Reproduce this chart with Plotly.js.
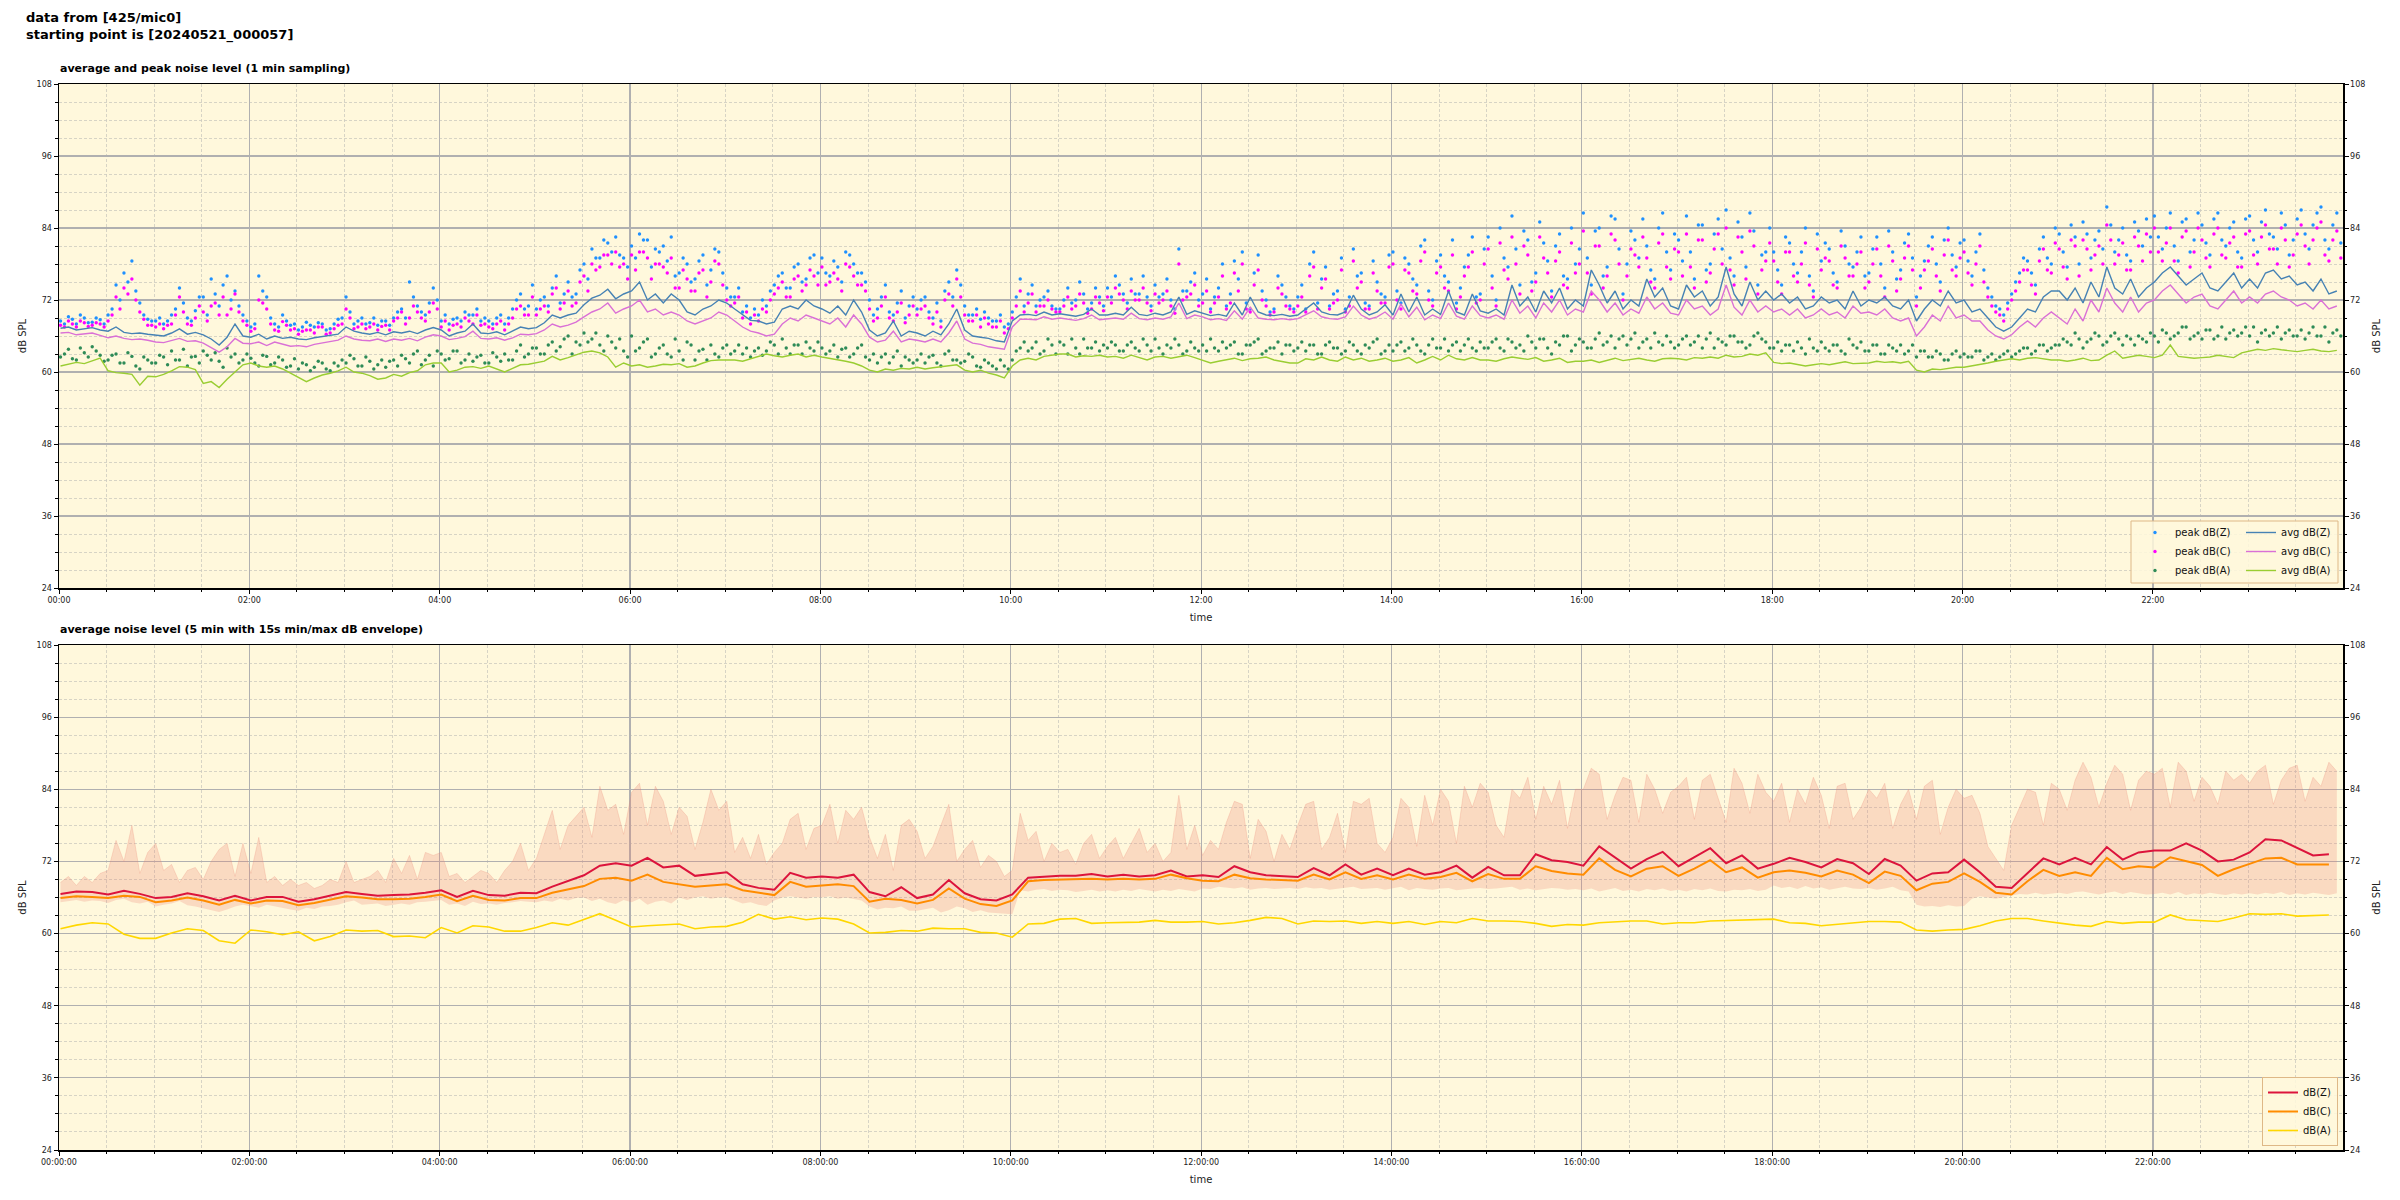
<!DOCTYPE html>
<html><head><meta charset="utf-8">
<script src="https://cdn.plot.ly/plotly-3.0.1.min.js"></script>
<style>html,body{margin:0;padding:0;background:#fff}#chart{width:2400px;height:1200px}</style>
</head><body><div id="chart"></div>
<script>
// ---------- DATA ----------
const startStamp = '2024-05-21 00:00:57';
const stepTop = 5;      // minutes between samples, panel 1 and envelope
const stepBottom = 10;  // minutes between samples, panel 2 lines
const peakOffset = 2.5; // minutes, second set of peak samples

const avgZ = [
67.3,67.5,67.0,67.2,67.4,67.0,66.8,67.5,66.6,66.4,66.5,66.3,
66.2,66.0,66.5,67.2,66.3,66.6,66.2,65.5,64.5,65.8,68.0,66.0,
65.8,66.3,65.5,66.0,65.6,65.8,65.5,65.4,65.7,65.9,66.0,66.3,
67.5,66.8,66.5,66.3,66.6,66.2,66.7,66.5,66.8,66.4,67.0,67.4,
67.0,66.0,66.5,66.8,68.0,66.5,66.4,66.7,66.2,66.8,67.5,67.2,
67.4,68.2,69.5,69.0,69.5,69.8,71.2,72.3,72.8,73.8,72.2,73.0,
73.5,75.0,72.0,73.0,71.5,73.0,72.0,70.0,69.5,70.5,71.0,72.0,
71.5,70.5,69.5,68.6,68.5,68.0,68.3,70.5,71.0,70.5,72.0,71.0,
70.5,69.8,71.0,69.5,72.0,70.0,67.0,66.0,66.5,68.5,66.0,66.8,
66.5,66.0,66.8,66.2,68.0,70.5,67.0,66.0,65.8,65.6,65.2,65.0,
68.5,69.5,69.6,69.4,70.0,69.5,69.7,69.5,69.3,69.6,70.5,69.5,
69.5,69.8,69.5,70.8,69.6,69.4,69.8,69.5,70.0,72.5,69.6,70.2,
69.8,69.4,69.6,69.3,71.5,69.5,72.5,70.0,69.5,69.4,69.6,69.3,
69.5,70.5,71.5,70.0,69.6,69.5,70.0,72.8,70.5,69.5,70.0,71.2,
69.5,73.0,70.0,72.5,69.5,70.5,69.6,73.5,70.0,69.5,73.0,70.2,
69.8,70.5,69.5,74.5,71.0,72.5,70.0,73.5,71.5,74.0,70.5,72.0,
71.0,77.0,74.5,71.5,73.5,70.5,72.0,71.0,75.5,72.5,74.0,71.0,
70.5,74.5,72.5,73.5,71.0,72.5,77.5,73.0,71.0,75.0,72.0,73.5,
72.0,73.0,71.5,72.5,70.5,71.0,72.5,71.5,72.0,70.5,73.5,71.0,
72.0,71.5,72.5,71.0,70.5,72.0,68.5,70.5,72.0,71.0,73.5,71.5,
72.0,70.0,70.5,69.0,67.5,66.8,67.5,69.0,70.5,70.0,72.5,73.5,
73.5,72.0,74.0,71.5,75.0,72.5,77.5,74.0,73.0,75.5,72.5,74.0,
75.0,76.5,77.5,76.0,74.5,75.5,76.5,74.0,73.5,75.0,76.5,74.0,
75.5,74.0,76.5,77.0,75.5,76.0,74.5,75.0,73.5,75.5,73.0,73.5];

const avgC = [
66.5,66.6,66.2,66.4,66.5,66.1,65.7,66.0,65.6,65.4,65.5,65.3,
65.0,64.9,65.2,65.6,65.1,65.2,64.8,64.0,63.3,64.2,65.6,64.8,
64.7,65.0,64.4,65.0,64.6,64.3,64.4,64.2,64.6,64.8,65.0,65.3,
66.0,65.5,65.3,65.2,65.5,65.1,65.5,65.3,65.6,65.2,65.8,66.2,
66.0,65.4,65.6,65.9,66.8,65.6,65.5,65.7,65.3,65.7,66.3,66.2,
66.4,67.0,68.0,67.5,67.8,68.3,69.2,70.0,70.5,71.5,69.8,70.5,
71.0,72.0,70.0,70.5,69.5,70.0,69.5,68.5,68.0,68.5,69.0,70.0,
69.5,68.5,67.5,66.8,66.5,66.0,66.3,68.0,69.0,68.5,69.5,69.0,
68.5,68.0,69.0,67.5,69.5,68.0,65.8,65.0,65.3,66.8,65.0,65.5,
65.3,65.0,65.5,65.0,66.5,68.5,65.5,64.8,64.6,64.2,64.0,63.8,
67.5,68.8,68.8,68.7,69.2,68.8,69.0,68.8,68.6,68.9,69.5,68.7,
68.8,69.0,68.8,69.8,68.9,68.7,69.0,68.8,69.2,71.5,68.9,69.5,
69.2,68.7,68.9,68.6,70.2,68.8,70.8,69.0,68.8,68.7,68.9,68.7,
68.9,69.5,70.2,69.2,68.9,68.8,69.2,71.0,69.5,68.8,69.2,70.0,
68.8,71.3,69.2,70.8,68.7,69.5,68.9,71.5,69.3,68.8,71.0,69.4,
69.0,69.5,68.8,72.0,69.8,71.0,69.0,71.5,70.0,72.0,69.5,70.5,
70.0,73.5,72.0,70.0,71.5,69.5,70.5,69.8,72.5,70.5,71.5,69.8,
69.5,72.0,70.5,71.0,69.5,70.5,74.5,70.8,69.5,72.0,70.0,71.0,
70.0,70.5,69.5,70.5,69.0,69.5,70.5,69.5,70.0,69.0,71.0,69.8,
70.0,69.5,70.5,69.0,68.5,69.0,66.0,67.5,69.5,68.5,71.0,69.0,
69.5,68.5,68.5,67.0,66.0,65.5,66.2,67.5,68.5,67.5,69.0,70.0,
69.0,68.0,70.5,68.5,72.0,70.0,74.0,71.5,70.0,72.5,70.0,71.5,
72.0,73.5,74.5,73.0,71.5,72.5,73.0,71.0,70.5,72.0,73.5,71.5,
72.5,71.5,73.0,73.5,72.5,72.0,71.0,71.5,70.5,72.0,70.5,71.0];

const avgA = [
61.0,61.3,61.6,61.4,61.8,62.3,60.2,59.9,59.8,59.6,57.8,59.3,
59.2,59.6,60.2,60.9,60.8,60.4,58.1,58.4,57.4,58.8,60.0,61.2,
61.5,61.0,60.8,61.0,60.5,59.8,59.2,58.4,59.0,59.5,59.8,60.2,
60.8,60.0,59.8,59.4,58.8,59.0,59.6,59.3,59.9,60.2,61.2,61.5,
61.5,60.0,60.3,60.8,60.9,60.6,61.0,60.5,60.0,60.6,61.2,61.3,
61.5,61.8,62.6,62.0,62.4,62.8,63.3,63.5,63.2,62.5,60.8,61.5,
61.0,61.2,60.8,61.0,61.3,61.2,61.4,60.8,61.0,61.5,61.9,62.0,
62.0,62.0,61.8,62.2,62.5,63.0,62.7,62.5,62.8,63.0,62.5,62.8,
62.5,62.3,62.0,61.8,61.5,61.0,60.3,60.0,60.5,60.3,60.6,60.5,
60.8,60.5,60.7,60.9,61.0,61.2,60.3,60.0,60.3,59.8,59.5,59.0,
61.0,62.0,62.3,62.0,62.6,62.8,63.0,63.0,62.5,62.7,62.6,62.8,
62.5,62.6,62.3,62.8,62.4,62.0,62.5,62.6,62.3,62.5,62.8,62.4,
62.0,61.5,61.8,62.0,62.3,61.9,62.2,62.3,62.5,62.0,61.8,61.5,
61.5,62.2,62.0,62.5,62.0,61.8,62.5,62.0,62.3,61.8,62.0,62.3,
61.8,62.0,62.4,61.5,62.0,62.6,62.0,62.8,62.2,62.0,62.4,62.0,
62.0,61.8,62.2,62.5,62.3,62.1,62.4,61.8,62.0,62.3,61.6,61.8,
61.8,62.0,61.6,62.0,62.3,61.9,62.1,62.3,62.0,61.8,62.2,62.3,
62.2,62.0,62.4,62.3,62.5,62.3,62.8,62.5,62.6,63.0,62.8,63.2,
61.6,61.4,61.5,61.3,61.0,61.2,61.4,61.2,61.5,61.7,61.4,61.5,
61.5,61.8,61.6,61.7,61.5,61.8,60.3,60.0,60.5,60.4,60.6,60.8,
60.8,61.0,61.2,61.5,61.8,62.0,62.2,62.0,62.3,62.4,62.2,62.0,
62.0,61.8,62.0,62.3,61.9,62.0,62.8,63.5,62.3,62.5,62.8,62.6,
62.4,62.8,64.5,62.6,62.5,62.3,62.4,62.5,62.8,62.6,62.4,63.2,
63.5,63.8,63.6,63.9,63.7,63.5,63.4,63.6,63.8,63.5,63.4,63.6];

const peakZ = [
68.5,69.2,68.0,69.0,68.3,68.7,69.5,74.5,76.5,78.5,71.5,68.8,
68.5,68.0,69.5,74.0,69.0,70.2,72.5,75.5,71.0,76.0,73.5,69.5,
67.5,76.0,72.5,68.0,69.5,67.8,67.0,68.3,67.5,68.0,67.2,68.8,
72.5,68.0,69.0,68.2,67.8,68.5,69.0,70.5,75.0,71.0,69.5,74.0,
68.5,68.0,69.0,70.0,69.5,68.5,68.5,69.0,68.0,70.5,73.0,71.0,
70.5,72.5,74.0,71.5,75.0,73.0,78.0,80.5,79.0,81.5,82.5,79.0,
81.0,83.0,82.0,80.5,81.0,82.5,76.5,78.0,75.5,79.5,77.0,80.0,
74.0,72.5,70.0,69.0,69.5,71.0,74.5,76.5,74.0,78.0,75.5,79.5,
79.0,76.0,77.5,80.0,78.0,76.5,72.0,70.5,74.5,69.5,73.5,71.0,
70.5,72.5,69.0,68.5,75.0,77.0,71.0,69.5,68.8,69.0,68.5,67.5,
70.0,75.5,73.0,71.0,72.5,71.0,70.5,74.0,72.0,73.0,71.5,72.5,
74.0,76.0,73.0,75.5,73.0,72.5,74.5,73.0,72.0,80.5,73.5,76.5,
73.0,70.5,74.0,71.0,78.5,80.0,70.5,79.5,72.0,70.5,74.5,71.0,
72.5,70.5,80.0,75.5,71.0,73.5,70.5,80.5,76.5,71.0,75.0,72.5,
80.0,71.5,78.0,74.5,82.0,72.0,79.5,75.0,71.5,77.5,82.5,73.0,
82.5,72.0,79.0,86.0,74.5,82.0,76.5,81.5,73.5,83.0,75.5,78.0,
86.5,74.5,84.0,77.5,85.5,73.0,83.5,79.0,81.0,75.5,86.5,77.0,
82.0,86.0,75.5,84.5,78.0,85.5,87.0,76.0,82.5,86.5,74.5,80.0,
80.0,74.5,81.5,76.5,84.0,73.5,78.5,80.5,75.0,81.0,77.5,82.5,
76.5,82.5,74.0,80.0,77.0,83.0,72.5,78.5,82.5,75.0,84.0,77.5,
82.0,76.0,83.0,74.0,71.0,69.5,73.0,76.5,78.5,74.5,82.5,78.0,
83.0,77.5,82.5,85.0,79.0,83.5,87.5,80.0,84.0,78.5,83.5,85.5,
86.0,80.5,86.5,78.5,85.5,82.0,84.5,79.5,86.5,81.0,85.0,79.0,
86.0,80.0,87.0,82.5,86.5,79.5,85.5,83.0,84.5,87.5,80.5,86.5];

const peakZ2 = [
68.0,68.8,69.5,68.2,69.0,68.0,70.5,72.0,75.0,73.5,69.5,68.5,
69.0,68.5,70.5,71.5,68.5,72.5,69.5,73.0,74.5,72.0,71.0,68.5,
68.0,73.5,69.0,67.5,68.5,68.0,67.5,67.8,68.2,67.0,68.0,69.0,
70.0,68.5,68.0,69.0,68.5,67.8,70.0,69.0,72.5,70.0,71.5,72.0,
69.5,68.8,68.5,69.5,70.5,69.0,68.0,69.5,69.0,72.0,70.5,74.5,
72.0,71.0,76.0,73.0,72.5,77.0,75.5,79.0,82.0,80.0,79.5,77.5,
79.0,82.0,77.5,80.0,78.5,76.0,79.0,75.0,78.5,74.5,80.5,76.5,
72.5,74.0,71.0,70.5,72.0,73.5,76.0,74.0,77.5,75.0,79.0,76.5,
76.5,78.5,75.0,79.5,76.5,75.0,69.5,72.5,70.0,71.5,69.0,72.5,
72.0,70.0,71.5,73.5,72.5,74.5,69.5,70.5,70.0,68.5,69.5,68.0,
72.5,71.0,74.5,72.0,73.5,70.5,72.0,71.5,75.0,70.5,74.0,71.0,
72.5,74.5,71.5,73.0,76.0,71.0,72.5,75.5,70.5,73.5,75.0,72.0,
75.5,72.5,78.0,73.0,75.5,71.5,76.5,73.5,70.0,76.0,72.5,70.5,
74.5,78.0,71.5,77.5,73.0,79.0,72.5,76.0,71.5,78.5,73.0,79.5,
73.5,79.0,75.5,81.0,73.5,78.5,76.0,82.0,74.0,79.5,72.5,80.5,
76.0,84.0,77.5,80.5,83.5,75.0,85.0,78.5,81.0,76.0,84.0,80.5,
79.0,83.5,76.0,86.0,80.5,78.0,82.0,85.5,77.0,84.0,80.0,83.0,
78.5,80.0,84.5,77.0,83.0,80.5,79.0,85.0,77.5,83.5,79.5,84.0,
77.0,82.5,78.0,80.0,76.0,83.0,81.5,76.5,83.5,78.0,80.0,76.0,
80.5,78.0,83.5,75.5,81.5,79.0,76.0,81.0,78.0,82.0,79.5,81.5,
78.5,80.0,77.0,72.5,70.5,71.5,75.0,79.0,76.5,80.5,79.0,84.0,
80.0,84.5,78.0,83.0,82.0,80.5,84.5,82.0,79.5,85.0,81.0,82.5,
82.5,84.0,81.0,85.0,80.0,86.5,81.5,85.5,82.0,84.0,80.0,85.5,
82.0,85.0,83.0,80.5,84.5,82.0,87.0,80.5,86.5,82.0,84.5,81.5];

const peakC = [
67.8,68.5,67.5,68.2,67.8,68.0,68.5,72.5,74.0,75.5,70.0,67.8,
67.5,67.2,68.0,72.5,68.0,69.0,70.0,71.0,69.5,69.5,73.0,68.5,
66.8,72.0,70.5,67.0,68.4,67.0,66.3,67.0,66.5,67.5,66.5,67.8,
70.5,67.2,68.0,67.5,67.0,67.8,68.5,70.0,69.0,70.0,68.5,71.5,
67.5,67.0,68.0,69.0,68.0,67.8,67.5,68.0,67.0,69.0,71.0,69.5,
69.5,71.0,73.0,70.5,73.5,71.5,76.0,78.0,77.5,79.5,80.0,78.0,
79.5,80.0,79.0,78.0,77.5,79.0,74.0,75.5,73.5,77.0,75.0,78.0,
72.0,71.5,69.0,68.0,68.5,70.0,73.0,75.0,72.5,76.0,74.5,76.0,
77.5,75.0,75.5,78.0,76.0,74.5,70.5,69.0,72.5,68.5,71.5,69.5,
69.5,71.0,68.0,67.5,73.0,75.5,69.5,68.5,67.5,68.0,67.5,66.5,
69.0,73.5,71.5,70.0,71.0,70.5,70.0,72.5,71.0,71.5,70.5,71.5,
72.5,74.0,72.0,73.5,72.0,71.5,73.0,72.0,71.0,78.0,72.5,74.5,
71.5,70.0,72.5,70.5,76.5,78.0,70.0,77.0,71.0,70.0,73.0,70.5,
71.0,70.0,77.5,74.0,70.5,72.0,70.0,78.5,75.0,70.5,73.5,71.5,
78.0,70.5,76.5,73.0,80.0,71.0,77.5,73.5,70.5,76.0,80.0,72.0,
80.5,71.0,77.0,82.5,73.0,79.5,75.0,79.0,72.5,80.0,74.0,76.5,
83.5,73.0,81.0,76.0,82.0,72.0,80.5,77.5,79.0,74.0,83.0,75.5,
80.0,83.0,74.0,82.0,76.5,83.0,84.0,74.5,80.0,83.5,73.0,78.5,
78.5,73.0,80.0,75.0,81.5,72.5,77.0,78.5,74.0,79.0,76.0,80.0,
75.0,80.5,72.5,78.5,75.5,81.0,71.0,77.0,80.5,73.5,82.0,76.0,
80.0,74.5,81.0,72.5,70.0,68.5,72.0,75.0,77.0,73.0,80.5,76.5,
80.5,75.5,81.0,82.0,77.0,81.0,84.5,78.0,81.5,77.0,81.0,83.0,
84.0,78.5,84.0,76.5,83.5,80.0,82.0,77.5,84.0,79.0,82.5,77.5,
83.5,78.0,84.5,80.5,84.0,77.5,83.0,81.0,82.0,85.0,78.5,83.5];

const peakC2 = [
67.5,68.0,68.5,67.6,68.2,67.5,69.5,70.5,73.0,72.0,68.8,67.8,
68.0,67.8,69.5,70.0,67.8,71.0,68.5,71.5,72.5,70.5,70.0,67.8,
67.2,71.5,68.0,66.8,67.8,67.2,66.8,67.0,67.5,66.3,67.2,68.0,
69.0,67.5,67.2,68.0,67.6,67.0,69.0,68.0,71.0,69.0,70.0,70.5,
68.5,67.8,67.5,68.5,69.5,68.0,67.2,68.5,68.0,70.5,69.5,72.5,
70.5,70.0,74.0,71.5,71.0,75.0,73.5,77.0,79.5,78.0,77.5,75.5,
77.0,80.0,75.5,78.0,76.5,74.0,77.0,73.5,76.5,72.5,78.5,74.5,
71.0,72.5,70.0,69.5,70.5,72.0,74.0,72.5,75.5,73.5,77.0,74.5,
74.5,76.5,73.5,77.5,74.5,73.5,68.5,71.0,69.0,70.0,68.2,71.0,
70.5,69.0,70.0,72.0,71.0,72.5,68.5,69.5,69.0,67.5,68.5,67.2,
71.0,70.0,73.0,71.0,72.0,70.0,71.0,70.5,73.0,69.8,72.5,70.2,
71.5,73.0,70.5,72.0,74.0,70.2,71.5,73.5,69.8,72.0,73.0,71.0,
73.5,71.5,76.0,71.5,73.5,70.5,74.5,72.0,69.5,74.0,71.0,70.0,
72.5,76.0,70.5,75.5,71.5,77.0,71.0,74.0,70.5,76.5,71.5,77.5,
72.0,77.0,73.5,78.5,72.0,76.5,74.0,79.5,72.5,77.5,71.5,78.0,
74.0,81.5,75.5,78.0,81.0,73.5,82.5,76.5,78.5,74.5,81.5,78.0,
76.5,81.0,74.0,83.0,78.0,76.0,79.5,82.5,75.0,81.5,77.5,80.5,
76.0,77.5,82.0,75.0,80.5,78.0,77.0,82.5,75.5,81.0,77.0,81.5,
75.0,80.0,76.0,78.0,74.5,80.5,79.0,74.5,81.0,76.0,78.0,74.0,
78.0,76.0,81.0,73.5,79.0,77.0,74.0,78.5,76.0,79.5,77.0,79.0,
76.5,78.0,75.0,71.0,69.5,70.5,73.5,77.0,74.5,78.5,77.0,81.5,
77.5,82.0,76.0,80.5,79.5,78.0,82.0,79.5,77.0,82.5,78.5,80.0,
80.0,81.5,78.5,82.5,77.5,84.0,79.0,83.0,79.5,81.5,77.5,83.0,
79.5,82.5,80.5,78.0,82.0,79.5,84.5,78.0,84.0,79.5,82.0,79.0];

const peakA = [
62.5,63.8,62.0,63.2,64.2,62.8,62.0,63.0,61.5,62.6,60.5,62.0,
61.5,62.5,63.5,62.0,61.0,62.6,63.5,62.0,61.8,64.0,63.0,62.0,
62.3,61.0,62.6,61.5,62.0,61.0,60.5,61.2,60.8,61.5,60.2,61.0,
61.5,62.2,61.0,61.8,61.2,60.8,62.0,62.8,61.5,63.5,62.0,61.0,
63.0,62.2,63.5,62.0,61.8,62.8,61.5,62.5,63.0,62.0,64.5,63.0,
64.0,63.0,65.0,64.2,66.0,65.0,66.5,65.5,64.5,66.0,64.0,63.5,
66.0,64.0,65.5,63.0,64.5,62.5,63.5,65.0,62.0,63.8,64.5,62.5,
64.5,63.5,63.0,62.5,64.0,63.5,64.5,65.5,63.0,64.5,65.0,63.5,
64.0,63.5,62.5,64.0,63.0,64.5,62.0,61.5,63.0,62.5,61.0,62.0,
62.0,61.5,62.8,61.0,63.5,62.0,61.8,62.5,60.8,61.5,60.5,61.0,
62.0,64.0,63.5,65.0,63.5,64.5,65.0,63.0,64.0,65.5,64.0,63.5,
64.0,64.5,63.5,65.0,63.5,64.5,65.5,63.0,64.0,64.5,63.5,64.0,
64.5,65.5,63.5,64.0,65.0,63.0,64.5,65.5,63.5,64.0,63.0,64.5,
64.0,63.5,64.5,63.0,65.0,64.0,63.5,64.5,63.0,64.0,65.5,63.5,
63.5,65.0,64.0,64.5,63.0,65.5,64.0,63.5,65.0,64.5,64.0,65.0,
64.0,65.5,63.5,65.0,64.5,66.0,64.0,65.5,63.0,64.5,66.0,64.5,
65.0,64.0,66.5,65.0,64.0,66.0,65.5,64.0,65.5,66.5,64.5,65.0,
64.5,66.0,65.0,64.0,66.5,65.5,64.5,66.0,65.0,64.5,66.5,65.0,
64.0,63.5,64.5,65.0,63.0,64.0,65.0,63.5,64.5,63.0,64.5,65.0,
63.5,64.5,63.0,64.0,64.5,63.5,62.5,63.5,62.5,63.0,62.0,63.5,
63.0,62.5,63.5,62.5,62.0,63.0,62.5,63.5,64.0,63.5,64.5,64.0,
64.5,65.0,66.5,64.0,65.5,66.0,65.0,66.5,64.5,65.5,66.0,65.0,
66.0,67.0,65.5,66.5,67.5,66.0,65.5,67.0,66.0,65.5,67.0,66.5,
66.0,65.0,67.0,66.5,65.5,67.0,66.0,65.5,67.5,66.0,65.0,67.0];

const peakA2 = [
63.0,62.2,64.0,62.5,63.5,61.8,62.8,61.5,63.2,61.0,62.5,61.5,
62.8,61.2,62.0,63.8,62.5,61.5,62.8,63.2,60.8,62.5,61.5,63.0,
61.5,62.8,61.2,62.5,60.8,62.2,61.5,60.2,61.8,60.5,61.5,62.0,
62.8,61.0,62.5,60.5,62.0,61.8,61.0,62.2,63.0,61.2,62.8,63.5,
62.0,63.5,61.5,63.0,62.5,61.5,63.2,61.8,62.0,63.5,62.5,64.0,
63.0,64.5,63.5,65.5,63.0,64.5,65.0,66.5,63.5,65.0,65.5,62.5,
63.5,65.0,62.5,64.0,63.0,65.5,62.0,64.5,63.5,62.0,63.0,64.0,
63.0,64.5,64.0,63.5,62.8,65.0,63.0,64.0,64.5,63.0,64.0,65.0,
63.0,64.5,63.8,62.5,64.0,62.5,63.0,62.5,61.5,63.5,62.5,61.5,
63.0,62.5,61.5,63.0,62.0,61.5,63.0,61.0,62.0,61.0,62.0,60.5,
63.5,65.0,64.0,63.0,65.5,63.0,64.5,65.5,63.0,64.0,65.0,64.5,
65.0,63.5,64.5,64.0,65.5,63.5,64.0,64.5,65.5,63.0,65.0,63.5,
63.5,64.0,65.0,64.5,63.0,64.5,65.0,63.0,64.0,65.0,64.5,63.5,
65.0,64.5,63.0,64.5,64.0,63.0,65.0,63.5,64.5,65.0,63.0,64.5,
64.5,63.5,65.5,63.5,64.5,64.0,65.5,64.5,63.5,65.5,63.5,64.0,
65.0,64.0,65.5,64.0,63.5,65.0,65.5,64.0,65.0,66.0,63.5,65.5,
64.0,65.5,64.5,66.0,65.5,64.5,66.5,65.0,64.0,65.0,66.0,64.0,
65.5,64.5,66.0,65.5,64.0,65.0,66.0,65.0,64.0,66.0,65.5,64.0,
65.0,64.5,63.5,64.0,65.5,63.5,64.0,64.5,63.5,65.5,64.0,63.5,
64.5,63.0,64.5,63.5,63.0,64.5,63.5,62.5,63.5,62.0,63.0,62.5,
62.5,63.5,62.0,63.0,62.5,63.5,63.0,64.0,63.0,64.5,63.5,64.5,
65.5,64.5,65.5,65.0,66.5,64.5,66.0,65.5,66.0,64.5,65.5,66.5,
65.0,66.5,66.0,67.5,65.5,66.5,67.0,65.5,67.5,66.5,66.0,67.5,
67.5,66.5,66.0,67.5,66.5,66.0,67.0,66.5,66.0,67.5,66.5,66.0];

// panel 2: 5-min averages (sampled every 10 min)
const levZ = [
66.6,67.0,66.9,66.5,67.1,66.6, 65.9,66.1,66.7,66.2,65.5,66.3,
65.5,66.1,66.1,65.3,65.7,66.3, 66.9,66.6,66.3,66.4,66.5,66.8,
67.2,66.1,67.1,66.4,66.3,66.8, 66.7,67.8,68.7,69.7,71.3,71.7,
71.3,72.6,71.0,71.3,69.6,69.9, 70.2,68.2,67.6,67.3,70.1,69.3,
69.5,69.3,69.8,66.9,66.2,67.7, 65.9,66.5,68.9,66.7,65.7,65.5,
66.5,69.3,69.5,69.6,69.6,69.9, 69.5,69.8,69.5,69.7,70.5,69.5,
69.7,69.4,71.2,70.2,69.7,69.5, 69.4,70.9,69.7,71.5,69.8,70.8,
69.7,70.8,69.8,70.2,71.3,69.3, 71.1,69.7,69.7,73.2,72.2,71.9,
71.3,74.5,72.7,70.8,72.4,73.6, 71.2,72.7,74.2,71.7,73.0,70.8,
71.6,72.6,71.9,71.0,72.4,71.7, 69.9,72.4,71.3,68.8,70.0,70.2,
72.3,70.2,67.8,67.6,70.0,72.5, 71.5,72.6,71.5,74.4,72.3,73.5,
73.8,73.8,75.0,73.8,72.0,72.3, 73.5,75.7,75.5,74.3,73.0,73.2];

const levC = [
65.9,66.2,66.1,65.9,66.3,66.1, 65.2,65.5,66.0,65.5,64.8,65.6,
65.0,65.5,65.4,64.7,65.1,65.6, 66.2,66.0,65.7,65.7,65.8,66.1,
66.5,65.4,66.3,65.6,65.5,65.9, 65.9,66.8,67.4,67.9,69.1,69.3,
68.8,69.8,68.6,68.2,67.8,68.0, 68.2,67.2,66.8,66.4,68.6,67.8,
68.0,68.2,67.9,65.3,65.8,65.6, 65.0,65.6,67.5,65.8,64.9,64.6,
65.5,68.7,68.9,69.0,69.0,69.1, 69.0,69.1,69.0,69.1,69.8,69.2,
68.8,68.7,69.8,69.2,69.0,68.9, 68.8,69.8,69.0,70.2,69.1,69.7,
69.0,69.8,69.1,69.4,70.1,68.7, 69.9,69.1,69.1,71.2,70.4,70.0,
69.8,72.5,70.6,69.5,70.8,71.2, 69.6,70.8,72.2,70.2,71.0,69.3,
70.2,70.5,70.1,69.5,70.5,69.8, 68.4,70.3,69.6,67.2,68.3,68.6,
70.0,68.6,66.8,66.5,68.7,70.6, 69.6,70.2,69.6,72.6,70.7,71.2,
71.0,72.7,72.0,71.4,69.6,70.7, 71.6,72.5,72.6,71.5,71.5,71.5];

const levA = [
60.8,61.4,61.8,61.6,59.9,59.2, 59.2,60.1,60.8,60.5,58.8,58.4,
60.6,60.3,59.8,60.3,58.8,59.5, 60.6,60.4,60.5,59.5,59.6,59.3,
61.0,60.1,61.3,61.1,60.4,60.4, 61.0,61.8,61.4,62.4,63.3,62.2,
61.1,61.3,61.5,61.6,60.8,61.1, 61.2,61.9,63.2,62.4,62.8,62.3,
62.6,62.4,61.6,60.1,60.2,60.5, 60.4,60.9,60.8,60.8,60.2,60.1,
59.4,61.6,61.7,62.4,62.5,61.7, 61.8,61.9,61.9,62.2,61.9,61.9,
62.0,61.6,61.8,62.2,62.7,62.5, 61.6,62.1,62.0,62.1,61.7,62.0,
61.7,62.0,61.5,62.0,61.8,62.5, 62.1,62.1,62.0,61.7,61.2,61.5,
61.4,61.8,62.0,62.1,62.1,61.6, 61.8,61.8,62.1,62.2,62.2,62.3,
62.4,61.8,61.7,61.3,61.5,61.8, 62.0,62.0,61.9,60.6,60.4,60.6,
60.7,61.3,62.1,62.5,62.5,62.1, 61.7,61.4,61.2,62.0,61.7,61.9,
61.9,63.1,62.3,62.1,62.0,62.6, 63.3,63.2,63.3,62.9,63.0,63.1];

// panel 2: 15 s min / max envelope, sampled every 5 min
const envLo = [
65.2,65.4,65.6,65.3,65.5,65.4,65.1,65.6,65.8,65.2,65.0,65.3,
64.5,64.8,65.0,65.4,64.7,64.5,64.2,63.8,63.6,64.0,64.5,64.8,
64.6,64.3,64.8,64.5,64.2,64.0,63.8,64.3,64.1,64.5,64.6,64.8,
65.2,65.5,64.8,64.9,65.0,64.6,64.8,65.0,64.8,65.2,65.3,65.5,
65.6,64.8,65.0,64.6,65.3,64.9,65.0,64.8,65.1,65.2,65.4,65.3,
65.2,65.5,65.3,65.8,65.5,65.9,66.0,65.4,65.8,65.2,64.9,65.6,
65.2,65.8,64.8,65.3,65.5,65.0,66.0,65.6,66.0,66.2,65.8,66.0,
66.0,65.5,65.0,65.2,64.8,64.6,65.5,66.0,66.2,66.0,65.8,66.1,
66.0,66.2,65.8,66.0,65.7,65.5,64.5,64.0,64.3,64.2,64.5,63.8,
63.8,64.0,64.3,63.5,63.9,64.5,64.2,63.6,63.9,63.5,63.4,63.3,
63.2,67.2,67.0,67.3,67.4,67.1,67.3,67.2,66.9,67.1,67.3,67.0,
67.2,67.0,67.3,67.1,67.4,67.2,67.0,67.3,67.1,67.4,67.2,67.0,
67.5,67.4,67.8,67.6,67.5,67.7,67.3,67.5,67.6,67.4,67.5,67.6,
67.4,67.7,67.5,67.6,67.3,67.5,67.6,67.8,67.4,67.5,67.6,67.3,
67.5,67.8,67.2,67.6,67.4,67.3,67.5,67.6,67.2,67.4,67.5,67.6,
67.4,67.5,67.6,67.8,67.3,67.5,67.2,67.4,67.6,67.5,67.3,67.4,
67.2,67.5,67.0,67.3,67.6,67.1,67.3,67.0,67.4,67.2,67.5,67.1,
67.3,67.0,67.4,67.2,67.5,67.1,67.0,67.3,67.2,67.4,67.1,67.3,
68.0,67.6,67.8,67.4,67.9,67.5,67.7,67.3,67.6,67.8,67.5,67.4,
67.6,67.3,67.5,67.8,67.2,67.0,64.8,64.5,64.6,64.4,64.7,64.5,
64.6,65.8,66.2,66.0,65.8,66.1,66.4,66.6,66.5,66.8,66.5,66.7,
66.8,66.6,66.9,67.0,66.7,66.5,66.8,67.0,66.6,66.9,66.7,66.5,
66.6,66.8,66.5,66.9,66.4,66.7,66.5,66.8,66.6,66.4,66.7,66.5,
66.7,66.5,66.8,66.6,66.9,66.4,66.7,66.5,66.8,66.6,66.4,66.7];

const envHi = [
68.5,69.5,68.0,69.5,68.5,70.0,70.5,75.5,72.0,78.0,70.0,73.5,
75.0,70.5,71.5,68.5,70.5,71.0,69.0,72.0,74.0,75.0,69.5,75.0,
70.0,76.0,68.5,69.5,68.0,69.0,68.0,68.5,67.5,68.0,69.0,68.5,
72.0,68.5,69.0,69.5,70.5,68.5,72.5,70.0,73.0,69.0,73.5,73.0,
73.5,69.5,70.0,68.5,69.5,70.5,70.0,68.5,70.5,72.0,75.0,70.5,
72.5,76.5,80.5,74.0,78.0,79.5,81.0,76.0,84.5,80.5,81.5,76.5,
83.5,85.0,78.0,84.5,82.0,76.5,81.0,79.5,74.0,78.5,84.0,80.5,
82.0,73.5,76.0,72.5,76.5,71.5,73.5,75.0,79.0,80.0,74.0,77.5,
78.0,81.5,75.0,80.5,79.0,81.0,76.0,72.5,76.5,70.5,78.0,79.0,
77.0,72.5,74.5,78.0,81.5,72.0,74.0,75.5,71.0,73.0,72.0,69.5,
70.5,80.0,75.5,77.0,72.0,75.0,73.5,74.0,71.5,75.0,76.5,72.5,
74.5,76.0,72.5,75.0,77.5,73.5,75.0,72.0,73.5,83.0,74.0,78.0,
73.0,75.5,74.0,78.5,82.0,81.5,72.5,79.0,77.0,72.0,76.5,74.0,
78.0,81.5,82.0,74.0,76.0,80.0,73.5,82.0,81.5,82.5,75.0,73.5,
76.0,82.5,81.0,74.5,83.0,78.0,84.0,82.0,75.0,84.5,81.0,85.0,
83.5,78.0,76.0,84.0,82.5,86.0,79.0,84.5,81.5,85.5,77.5,84.0,
84.0,87.5,86.5,79.0,83.0,86.0,85.5,78.5,86.5,84.0,80.0,83.5,
84.5,86.0,79.0,85.5,86.5,82.5,78.5,87.5,85.0,80.0,86.5,83.5,
82.0,85.0,78.5,84.0,81.5,86.0,83.0,77.5,84.5,85.0,79.0,81.0,
84.0,82.5,85.0,77.5,81.5,84.0,79.0,84.5,85.5,76.5,81.0,84.0,
82.5,83.0,80.0,74.5,72.5,70.5,78.0,81.0,84.0,83.5,78.0,85.0,
84.0,80.5,85.5,88.5,86.0,81.0,85.0,88.0,86.5,80.5,85.5,87.0,
86.5,87.5,81.0,88.5,87.0,82.0,86.0,84.5,81.5,87.0,85.5,86.5,
85.0,87.0,88.0,81.5,85.5,87.5,88.0,82.0,86.0,84.5,88.5,87.0];

const yTicks = {first: 24, last: 108, major: 12, minor: 3};
const titleLines = ['data from [425/mic0]', 'starting point is [20240521_000057]'];
const panelTitles = ['average and peak noise level (1 min sampling)',
                     'average noise level (5 min with 15s min/max dB envelope)'];

// ---------- time stamps from start + step ----------
function stamps(n, stepMin, offsetMin) {
  const p = startStamp.split(/[- :]/).map(Number);
  const t0 = Date.UTC(p[0], p[1]-1, p[2], p[3], p[4], p[5]) + (offsetMin || 0)*60000;
  const out = [];
  for (let i = 0; i < n; i++) {
    out.push(new Date(t0 + i*stepMin*60000).toISOString().slice(0,19).replace('T',' '));
  }
  return out;
}
const tTop = stamps(avgZ.length, stepTop, 0);
const tTopB = stamps(peakZ2.length, stepTop, peakOffset);
const tPeak = tTop.concat(tTopB);
const tEnv = stamps(envHi.length, stepTop, 0);
const tBot = stamps(levZ.length, stepBottom, 0);
const xRange = ['2024-05-21 00:00:00', '2024-05-21 23:59:50'];

const FONT = 'DejaVu Sans, Liberation Sans, sans-serif';
const gridMajor = '#b0b0b0', gridMinor = '#cdcabf';

function xAxis(fmt, anchor) {
  return {
    type: 'date', range: xRange, anchor: anchor, domain: [0,1],
    dtick: 7200000, tickformat: fmt, ticks: 'outside', ticklen: 4, tickwidth: 1, tickcolor: '#000',
    showgrid: true, gridcolor: gridMajor, gridwidth: 1.2,
    minor: {dtick: 1800000, ticks: 'outside', ticklen: 2.5, tickcolor: '#000',
            showgrid: true, gridcolor: gridMinor, griddash: '3px,2px', gridwidth: 0.8},
    showline: true, linecolor: '#000', linewidth: 1.5, mirror: true,
    tickfont: {family: FONT, size: 8, color: '#222'},
    title: {text: 'time', font: {family: FONT, size: 10, color: '#222'}, standoff: 10},
    zeroline: false, fixedrange: true, automargin: false
  };
}
function yAxis(domain, right, over) {
  const a = {
    range: [yTicks.first, yTicks.last], tick0: yTicks.first, dtick: yTicks.major,
    ticks: 'outside', ticklen: 4, tickwidth: 1, tickcolor: '#000',
    showline: true, linecolor: '#000', linewidth: 1.5,
    tickfont: {family: FONT, size: 8, color: '#222'},
    title: {text: 'dB SPL', font: {family: FONT, size: 10, color: '#222'}, standoff: 8},
    zeroline: false, fixedrange: true, automargin: false
  };
  if (right) {
    Object.assign(a, {overlaying: over, side: 'right', anchor: right, showgrid: false,
      minor: {tick0: yTicks.first, dtick: yTicks.minor, ticks: 'outside', ticklen: 2.5, tickcolor: '#000', showgrid: false}});
  } else {
    Object.assign(a, {domain: domain, showgrid: true, gridcolor: gridMajor, gridwidth: 1.2,
      minor: {tick0: yTicks.first, dtick: yTicks.minor, ticks: 'outside', ticklen: 2.5, tickcolor: '#000',
              showgrid: true, gridcolor: gridMinor, griddash: '3px,2px', gridwidth: 0.8}});
  }
  return a;
}

function peaks(y1, y2, name, color) {
  return {type: 'scatter', mode: 'markers', x: tPeak, y: y1.concat(y2), name: name, legend: 'legend',
    xaxis: 'x', yaxis: 'y', marker: {size: 3.4, color: color}, hoverinfo: 'skip'};
}
function avgLine(y, name, color, yaxis) {
  return {type: 'scatter', mode: 'lines', x: tTop, y: y, name: name, legend: 'legend2',
    xaxis: 'x', yaxis: yaxis, line: {color: color, width: 1.4}, hoverinfo: 'skip'};
}

const traces = [
  peaks(peakZ, peakZ2, 'peak dB(Z)', '#1E90FF'),
  peaks(peakC, peakC2, 'peak dB(C)', '#FF00FF'),
  peaks(peakA, peakA2, 'peak dB(A)', '#2E8B57'),
  avgLine(avgZ, 'avg dB(Z)', '#4682B4', 'y'),
  avgLine(avgC, 'avg dB(C)', '#DA70D6', 'y'),
  avgLine(avgA, 'avg dB(A)', '#9ACD32', 'y3'),
  {type: 'scatter', mode: 'lines', x: tEnv, y: envLo, xaxis: 'x2', yaxis: 'y2', showlegend: false,
   line: {width: 0, color: 'rgba(0,0,0,0)'}, hoverinfo: 'skip'},
  {type: 'scatter', mode: 'lines', x: tEnv, y: envHi, xaxis: 'x2', yaxis: 'y2', showlegend: false,
   fill: 'tonexty', fillcolor: 'rgba(236,125,110,0.24)',
   line: {width: 0.7, color: 'rgba(236,130,115,0.35)'}, hoverinfo: 'skip'},
  {type: 'scatter', mode: 'lines', x: tBot, y: levZ, name: 'dB(Z)', legend: 'legend3',
   xaxis: 'x2', yaxis: 'y2', line: {color: '#DC143C', width: 2}, hoverinfo: 'skip'},
  {type: 'scatter', mode: 'lines', x: tBot, y: levC, name: 'dB(C)', legend: 'legend3',
   xaxis: 'x2', yaxis: 'y2', line: {color: '#FF8C00', width: 2}, hoverinfo: 'skip'},
  {type: 'scatter', mode: 'lines', x: tBot, y: levA, name: 'dB(A)', legend: 'legend3',
   xaxis: 'x2', yaxis: 'y4', line: {color: '#FFD700', width: 1.6}, hoverinfo: 'skip'}
];

// plot area: left 59, right 2343, top 84, bottom 1150 (px)
const W = 2400, H = 1200, L = 59, R = 57, T = 84, B = 50;
const pw = W - L - R, ph = H - T - B;
const px = X => (X - L) / pw;
const py = Y => (H - B - Y) / ph;

const legFont = {family: FONT, size: 10, color: '#111'};
const layout = {
  width: W, height: H, margin: {l: L, r: R, t: T, b: B},
  paper_bgcolor: '#ffffff', plot_bgcolor: '#FFF8DC',
  font: {family: FONT, color: '#222'},
  showlegend: true,
  xaxis: xAxis('%H:%M', 'y'),
  xaxis2: xAxis('%H:%M:%S', 'y2'),
  yaxis: yAxis([py(588), 1]),
  yaxis2: yAxis([0, py(645)]),
  yaxis3: yAxis(null, 'x', 'y'),
  yaxis4: yAxis(null, 'x2', 'y2'),
  legend: {x: px(2236), xanchor: 'right', y: py(585), yanchor: 'bottom', bgcolor: 'rgba(0,0,0,0)',
           borderwidth: 0, font: legFont, itemwidth: 30, tracegroupgap: 0, traceorder: 'normal'},
  legend2: {x: px(2336), xanchor: 'right', y: py(585), yanchor: 'bottom', bgcolor: 'rgba(0,0,0,0)',
            borderwidth: 0, font: legFont, itemwidth: 30, tracegroupgap: 0, traceorder: 'normal'},
  legend3: {x: px(2338), xanchor: 'right', y: py(1146), yanchor: 'bottom', bgcolor: 'rgba(255,248,220,0.85)',
            bordercolor: '#deb887', borderwidth: 1, font: legFont, itemwidth: 30, tracegroupgap: 0, traceorder: 'normal'},
  shapes: [{type: 'rect', xref: 'paper', yref: 'paper', layer: 'above',
            x0: px(2131), x1: px(2338), y0: py(583), y1: py(521),
            fillcolor: 'rgba(255,248,220,0.85)', line: {color: '#deb887', width: 1}}],
  annotations: [
    {xref: 'paper', yref: 'paper', x: px(24), y: py(8), xanchor: 'left', yanchor: 'top', align: 'left',
     showarrow: false, text: '<b>' + titleLines.join('<br>') + '</b>', font: {family: FONT, size: 13, color: '#000'}},
    {xref: 'paper', yref: 'paper', x: px(58), y: py(77), xanchor: 'left', yanchor: 'bottom',
     showarrow: false, text: '<b>' + panelTitles[0] + '</b>', font: {family: FONT, size: 11, color: '#000'}},
    {xref: 'paper', yref: 'paper', x: px(58), y: py(638), xanchor: 'left', yanchor: 'bottom',
     showarrow: false, text: '<b>' + panelTitles[1] + '</b>', font: {family: FONT, size: 11, color: '#000'}}
  ]
};

Plotly.newPlot('chart', traces, layout, {displayModeBar: false, staticPlot: true});
</script>
</body></html>
